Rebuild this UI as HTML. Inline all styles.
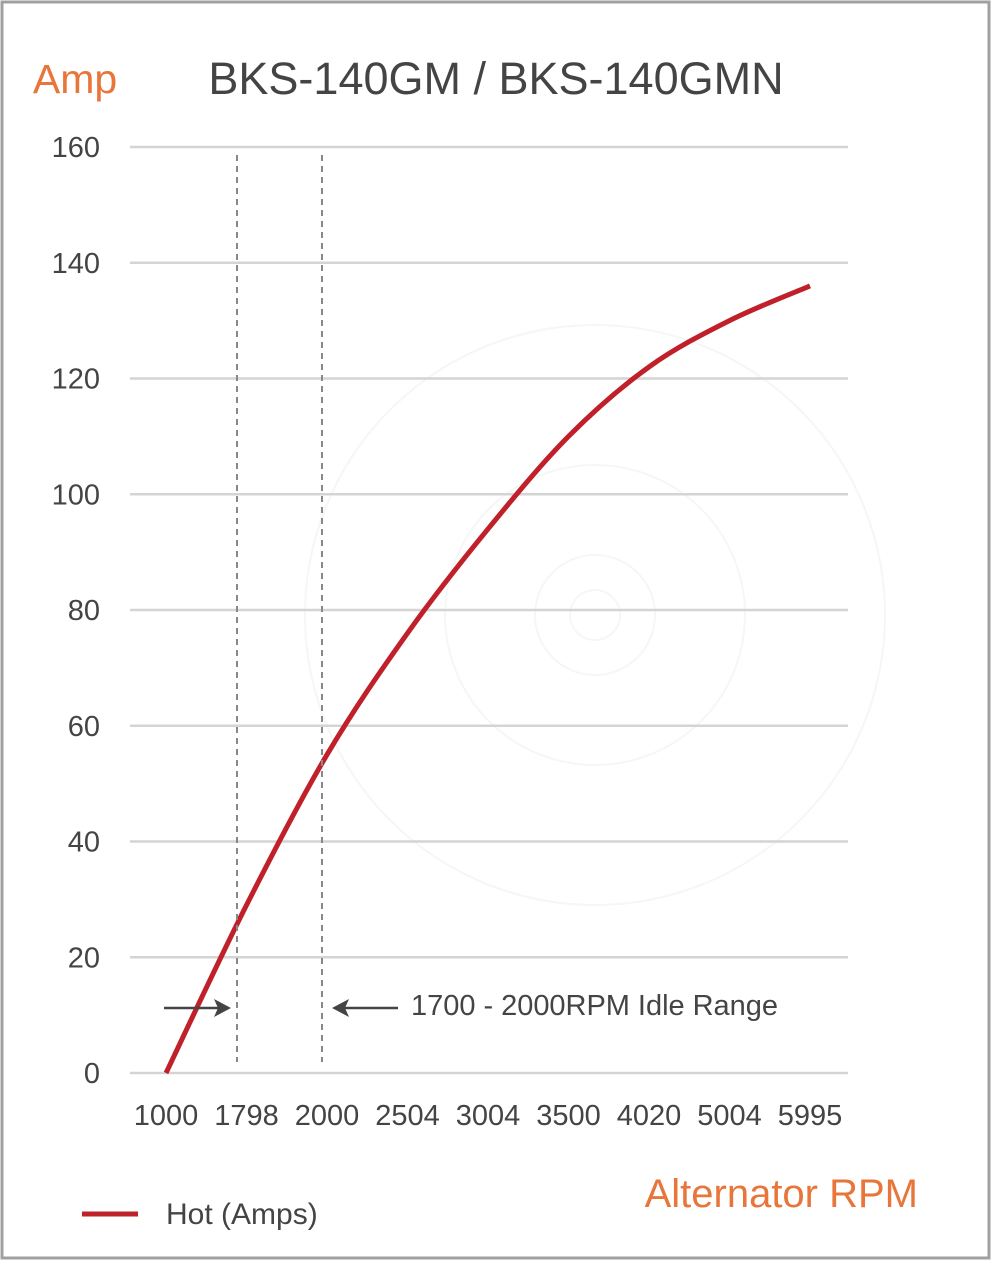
<!DOCTYPE html>
<html><head><meta charset="utf-8"><style>
html,body{margin:0;padding:0;background:#fff;}
body{width:992px;height:1262px;position:relative;overflow:hidden;font-family:"Liberation Sans",sans-serif;}
</style></head><body>
<svg width="992" height="1262" xmlns="http://www.w3.org/2000/svg">
<rect x="2" y="2" width="987" height="1256" fill="#fff" stroke="#a0a0a0" stroke-width="3"/>
<g opacity="0.5" stroke="#eceef0" fill="none" stroke-width="2">
<circle cx="595" cy="615" r="290"/><circle cx="595" cy="615" r="150"/><circle cx="595" cy="615" r="60"/><circle cx="595" cy="615" r="25"/>
</g>
<text x="75" y="93" font-size="41" fill="#e8763a" text-anchor="middle">Amp</text>
<text x="496" y="94" font-size="45" fill="#444" text-anchor="middle">BKS-140GM / BKS-140GMN</text>
<g id="grid"></g>
<g id="plot"></g>
<line x1="237" y1="155" x2="237" y2="1062" stroke="#888" stroke-width="2" stroke-dasharray="6,5"/>
<line x1="322" y1="155" x2="322" y2="1062" stroke="#888" stroke-width="2" stroke-dasharray="6,5"/>
<g stroke="#444" stroke-width="2.5" fill="#444">
<line x1="164" y1="1008" x2="222" y2="1008"/><polygon points="231,1008 214,999 218,1008 214,1017" stroke="none"/>
</g>
<g stroke="#444" stroke-width="2.5" fill="#444">
<line x1="398" y1="1008" x2="340" y2="1008"/><polygon points="332,1008 349,999 345,1008 349,1017" stroke="none"/>
</g>
<text x="411" y="1015" font-size="29" fill="#444" textLength="367">1700 - 2000RPM Idle Range</text>
<text x="918" y="1207" font-size="40" fill="#e8763a" text-anchor="end">Alternator RPM</text>
<line x1="82" y1="1214" x2="138" y2="1214" stroke="#c0202a" stroke-width="5"/>
<text x="166" y="1224" font-size="30" fill="#444">Hot (Amps)</text>
</svg>
<script>
const categories=["1000","1798","2000","2504","3004","3500","4020","5004","5995"];
const hotAmps=[0,29,55,76,94,110,122,130,136];
const yTicks=[0,20,40,60,80,100,120,140,160];
const NS="http://www.w3.org/2000/svg";
const x0=166,dx=80.5,yBase=1073,yTop=147,yMax=160;
const xs=i=>x0+i*dx;
const ys=v=>yBase-(v/yMax)*(yBase-yTop);
const grid=document.getElementById('grid'),plot=document.getElementById('plot');
yTicks.forEach(t=>{
 const l=document.createElementNS(NS,'line');
 l.setAttribute('x1',130);l.setAttribute('x2',848);l.setAttribute('y1',ys(t));l.setAttribute('y2',ys(t));
 l.setAttribute('stroke','#d4d4d4');l.setAttribute('stroke-width','2.5');
 
 
 grid.appendChild(l);
 const tx=document.createElementNS(NS,'text');
 tx.setAttribute('x',100);tx.setAttribute('y',ys(t)+10);tx.setAttribute('text-anchor','end');
 tx.setAttribute('font-size','29');tx.setAttribute('fill','#444');tx.textContent=t;
 
 
 grid.appendChild(tx);
});
categories.forEach((c,i)=>{
 const tx=document.createElementNS(NS,'text');
 tx.setAttribute('x',xs(i));tx.setAttribute('y',1125);tx.setAttribute('text-anchor','middle');
 tx.setAttribute('font-size','29');tx.setAttribute('fill','#444');tx.textContent=c;
 
 
 grid.appendChild(tx);
});
const pts=hotAmps.map((v,i)=>[xs(i),ys(v)]);
let d='M'+pts[0][0]+','+pts[0][1];
for(let i=0;i<pts.length-1;i++){
 const p0=pts[Math.max(0,i-1)],p1=pts[i],p2=pts[i+1],p3=pts[Math.min(pts.length-1,i+2)];
 const c1=[p1[0]+(p2[0]-p0[0])/6,p1[1]+(p2[1]-p0[1])/6];
 const c2=[p2[0]-(p3[0]-p1[0])/6,p2[1]-(p3[1]-p1[1])/6];
 d+=' C'+c1+' '+c2+' '+p2;
}
const path=document.createElementNS(NS,'path');
path.setAttribute('d',d);path.setAttribute('fill','none');path.setAttribute('stroke','#c0202a');path.setAttribute('stroke-width','5');


plot.appendChild(path);
</script>
</body></html>
